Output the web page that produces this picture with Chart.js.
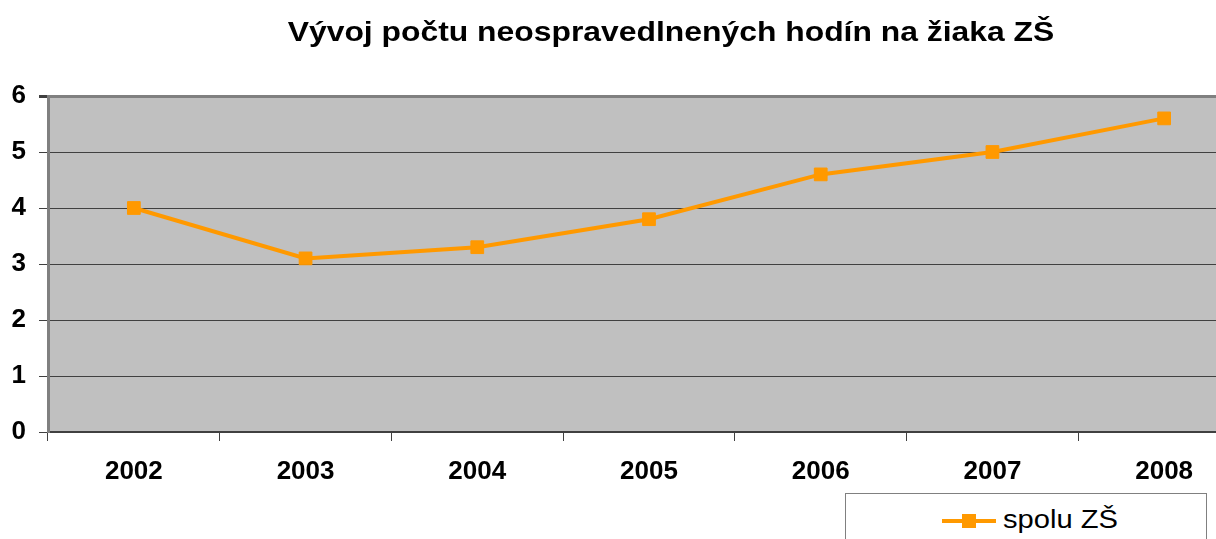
<!DOCTYPE html>
<html>
<head>
<meta charset="utf-8">
<script src="https://cdn.jsdelivr.net/npm/chart.js@4/dist/chart.umd.min.js"></script>
<style>
    body { margin: 0; overflow: hidden; background: #fff; width: 1216px; height: 539px; position: relative; }
    #wrap { position: absolute; left: 0; top: 0; width: 1260px; height: 539px; }
    #title {
        position: absolute; left: 0; top: 19px; width: 1342px; text-align: center;
        font: bold 27px "Liberation Sans", Arial, sans-serif; line-height: 27px; color: #000;
        transform: scaleX(1.18); transform-origin: 671px 0;
    }
    #legend {
        position: absolute; left: 845px; top: 493px; width: 362px; height: 60px;
        border: 1px solid #808080; box-sizing: border-box; background: #fff;
    }
    #legend .line { position: absolute; left: 96px; top: 25px; width: 54px; height: 4px; background: #FF9900; }
    #legend .mark { position: absolute; left: 116px; top: 20px; width: 14px; height: 14px; background: #FF9900; }
    #legend .txt {
        position: absolute; left: 157px; top: 10px;
        font: 26px "Liberation Sans", Arial, sans-serif; line-height: 30px; color: #000;
        transform: scaleX(1.12); transform-origin: 0 0; white-space: nowrap;
    }
</style>
</head>
<body>
<div id="wrap"><canvas id="chart" width="1260" height="539"></canvas></div>
<div id="title">Vývoj počtu neospravedlnených hodín na žiaka ZŠ</div>
<div id="legend"><div class="line"></div><div class="mark"></div><div class="txt">spolu ZŠ</div></div>
<script>
const years = ['2002', '2003', '2004', '2005', '2006', '2007', '2008'];
const spoluZS = [4.0, 3.1, 3.3, 3.8, 4.6, 5.0, 5.6];
const yTicks = [0, 1, 2, 3, 4, 5, 6];

document.addEventListener('DOMContentLoaded', () => {
    // sivé pozadie plochy grafu
    const plotBg = {
        id: 'plotBg',
        beforeDraw(chart) {
            const { ctx, chartArea: a } = chart;
            ctx.save();
            ctx.fillStyle = '#C0C0C0';
            ctx.fillRect(a.left, a.top, a.right - a.left, a.bottom - a.top);
            ctx.restore();
        }
    };

    const ctx = document.getElementById('chart').getContext('2d');
    new Chart(ctx, {
        type: 'line',
        data: {
            labels: years,
            datasets: [{
                label: 'spolu ZŠ',
                data: spoluZS,
                borderColor: '#FF9900',
                backgroundColor: '#FF9900',
                borderWidth: 4,
                tension: 0,
                pointStyle: 'rect',
                pointRadius: 9,
                pointBorderWidth: 1,
                pointBackgroundColor: '#FF9900',
                pointBorderColor: '#FF9900'
            }]
        },
        options: {
            responsive: false,
            animation: false,
            devicePixelRatio: 1,
            layout: { padding: { left: 0, right: 4, top: 96, bottom: 0 } },
            plugins: {
                legend: { display: false },
                title: { display: false },
                tooltip: { enabled: false }
            },
            scales: {
                x: {
                    offset: true,
                    afterFit: (scale) => { scale.height = 107; },
                    grid: {
                        drawOnChartArea: false,
                        offset: true,
                        tickLength: 9,
                        color: '#404040'
                    },
                    border: { display: true, color: '#404040', width: 2 },
                    ticks: {
                        color: '#000',
                        padding: 15,
                        maxRotation: 0,
                        font: { family: '"Liberation Sans", Arial, sans-serif', size: 26, weight: 'bold' }
                    }
                },
                y: {
                    min: 0,
                    max: 6,
                    afterFit: (scale) => { scale.width = 48; },
                    afterBuildTicks: (scale) => { scale.ticks = yTicks.map(v => ({ value: v })); },
                    grid: {
                        tickLength: 9,
                        color: (c) => c.tick && c.tick.value === 6 ? '#808080' : '#404040',
                        lineWidth: (c) => c.tick && c.tick.value === 6 ? 3 : 1,
                        tickColor: '#404040'
                    },
                    border: { display: true, color: '#808080', width: 3 },
                    ticks: {
                        color: '#000',
                        padding: 13,
                        font: { family: '"Liberation Sans", Arial, sans-serif', size: 26, weight: 'bold' }
                    }
                }
            }
        },
        plugins: [plotBg]
    });
});
</script>
</body>
</html>
